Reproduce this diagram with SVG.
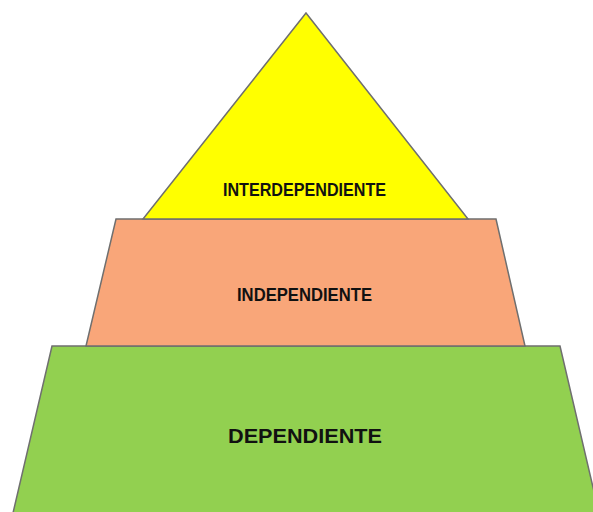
<svg xmlns="http://www.w3.org/2000/svg" width="593" height="512" viewBox="0 0 593 512">
<style>
.s{stroke:#6f6f6f;stroke-width:1.5;stroke-linejoin:miter}
.t{font-family:"Liberation Sans",Arial,sans-serif;font-weight:bold;fill:#111;text-anchor:middle}
</style>
<rect width="593" height="512" fill="#fff"/>
<g id="dependiente">
<polygon class="s" points="52,346 560,346 599,513 13,513" fill="#92d050"/>
<text class="t" x="305" y="443" font-size="20" textLength="154" lengthAdjust="spacingAndGlyphs">DEPENDIENTE</text>
</g>
<g id="independiente">
<polygon class="s" points="116,219 496,219 525,346 86,346" fill="#f9a679"/>
<text class="t" x="304.5" y="301" font-size="17.5" textLength="135" lengthAdjust="spacingAndGlyphs">INDEPENDIENTE</text>
</g>
<g id="interdependiente">
<polygon class="s" points="306,13 468,219 143,219" fill="#ffff00"/>
<text class="t" x="304.5" y="196" font-size="17.5" textLength="163" lengthAdjust="spacingAndGlyphs">INTERDEPENDIENTE</text>
</g>
<g id="connectors"/>
</svg>
